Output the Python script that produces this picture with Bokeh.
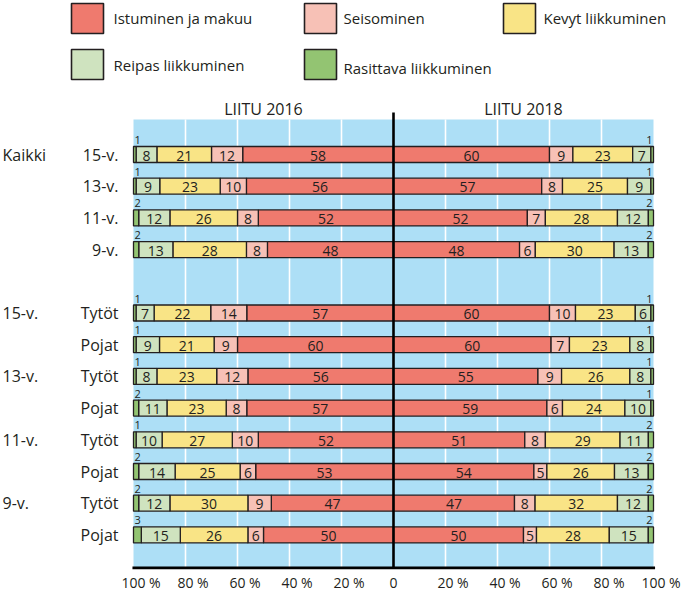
from bokeh.plotting import figure
from bokeh.models import Range1d, ColumnDataSource
from bokeh.core.properties import value
from bokeh.embed import file_html
from bokeh.resources import INLINE

# ---------------- data ----------------
group_labels = ["Kaikki", "15-v.", "13-v.", "11-v.", "9-v."]
row_labels = ["15-v.", "13-v.", "11-v.", "9-v.",
              "Tytöt", "Pojat", "Tytöt", "Pojat", "Tytöt", "Pojat", "Tytöt", "Pojat"]
categories = ["Istuminen ja makuu", "Seisominen", "Kevyt liikkuminen",
              "Reipas liikkuminen", "Rasittava liikkuminen"]
years = ["LIITU 2016", "LIITU 2018"]

ist_2016 = [58, 56, 52, 48, 57, 60, 56, 57, 52, 53, 47, 50]
sei_2016 = [12, 10, 8, 8, 14, 9, 12, 8, 10, 6, 9, 6]
kev_2016 = [21, 23, 26, 28, 22, 21, 23, 23, 27, 25, 30, 26]
rei_2016 = [8, 9, 12, 13, 7, 9, 8, 11, 10, 14, 12, 15]
ras_2016 = [1, 1, 2, 2, 1, 1, 1, 2, 1, 2, 2, 3]

ist_2018 = [60, 57, 52, 48, 60, 60, 55, 59, 51, 54, 47, 50]
sei_2018 = [9, 8, 7, 6, 10, 7, 9, 6, 8, 5, 8, 5]
kev_2018 = [23, 25, 28, 30, 23, 23, 26, 24, 29, 26, 32, 28]
rei_2018 = [7, 9, 12, 13, 6, 8, 8, 10, 11, 13, 12, 15]
ras_2018 = [1, 1, 2, 2, 1, 1, 1, 1, 2, 2, 2, 2]

tick_values = [-100, -80, -60, -40, -20, 0, 20, 40, 60, 80, 100]
tick_labels = ["100 %", "80 %", "60 %", "40 %", "20 %", "0",
               "20 %", "40 %", "60 %", "80 %", "100 %"]

colors = ["#EF7A6E", "#F7C1B6", "#F9E486", "#CFE3BF", "#93C472"]
panel_color = "#ADDFF6"
ink = "#231F20"
FONT = value("Open Sans")

# ---------------- layout helpers (figure pixels -> data) ----------------
W, H = 682, 593
CX, K = 393, 2.60      # centre line px, px per percent
CY, ROW = 154, 31.7    # first row centre px, px per row
def X(px):
    return (px - CX) / K
def Y(py):
    return (py - CY) / ROW

p = figure(width=W, height=H,
           x_range=Range1d(X(0), X(W)),
           y_range=Range1d(Y(H), Y(0)),
           output_backend="svg", toolbar_location=None,
           min_border=0, min_border_left=0, min_border_right=0,
           min_border_top=0, min_border_bottom=0)
p.xaxis.visible = False
p.yaxis.visible = False
p.grid.visible = False
p.outline_line_color = None
p.background_fill_color = "white"
p.border_fill_color = "white"

n = len(row_labels)
rows = [i if i < 4 else i + 1 for i in range(n)]
last = rows[-1]
panel_top = Y(CY - 35)
axis_y = last + 33 / ROW
bar_h = 16 / ROW

# panel and grid
p.quad(left=[-100], right=[100], top=[panel_top], bottom=[axis_y],
       fill_color=panel_color, line_color=None)
grid_x = [v for v in tick_values if v not in (0, -100, 100)]
p.segment(x0=grid_x, x1=grid_x, y0=[panel_top] * len(grid_x), y1=[axis_y] * len(grid_x),
          line_color="white", line_width=1.6)

# bars
series = {
    -1: [ist_2016, sei_2016, kev_2016, rei_2016, ras_2016],
    1: [ist_2018, sei_2018, kev_2018, rei_2018, ras_2018],
}
for side, vals in series.items():
    totals = [sum(v[i] for v in vals) for i in range(n)]
    cum = [0.0] * n
    for ci, v in enumerate(vals):
        share = [v[i] / totals[i] * 100 for i in range(n)]
        inner = cum[:]
        outer = [cum[i] + share[i] for i in range(n)]
        left = [side * a if side > 0 else side * b for a, b in zip(inner, outer)]
        right = [side * b if side > 0 else side * a for a, b in zip(inner, outer)]
        src = ColumnDataSource(dict(y=rows, left=left, right=right))
        p.hbar(y="y", left="left", right="right", height=bar_h, source=src,
               fill_color=colors[ci], line_color=ink, line_width=1.3)
        if ci < 4:
            lsrc = ColumnDataSource(dict(
                x=[side * (a + b) / 2 for a, b in zip(inner, outer)],
                y=rows, t=[str(x) for x in v]))
            p.text(x="x", y="y", text="t", source=lsrc, text_font=FONT,
                   text_font_size="14px", text_color=ink,
                   text_align="center", text_baseline="middle", y_offset=1)
        else:
            lsrc = ColumnDataSource(dict(
                x=[side * 100] * n, y=[r - 14.5 / ROW for r in rows],
                t=[str(x) for x in v]))
            p.text(x="x", y="y", text="t", source=lsrc, text_font=FONT,
                   text_font_size="11px", text_color=ink,
                   text_align="left" if side < 0 else "right",
                   x_offset=1 if side < 0 else -1,
                   text_baseline="middle")
        cum = outer

# centre line and bottom axis line
p.segment(x0=[0], x1=[0], y0=[Y(CY - 42)], y1=[axis_y], line_color="black", line_width=2.6)
p.segment(x0=[-100.4], x1=[100.6], y0=[axis_y], y1=[axis_y],
          line_color="black", line_width=2.6)

# tick labels (number centred on the tick, " %" hanging to the right)
tsrc = ColumnDataSource(dict(x=tick_values, y=[last + 48 / ROW] * len(tick_values),
                             t=tick_labels,
                             off=[0 if t == "0" else 7.5 for t in tick_labels]))
p.text(x="x", y="y", text="t", x_offset="off", source=tsrc, text_font=FONT,
       text_font_size="14px", text_color=ink, text_align="center",
       text_baseline="middle")

# year titles
p.text(x=[-50, 50], y=[Y(CY - 46)] * 2, text=years, text_font=FONT,
       text_font_size="16px", text_color=ink, text_align="center",
       text_baseline="middle")

# row labels
p.text(x=[X(118)] * n, y=rows, text=row_labels, text_font=FONT,
       text_font_size="16px", text_color=ink, text_align="right",
       text_baseline="middle")
group_rows = [0, 5, 7, 9, 11]
p.text(x=[X(2)] * len(group_labels), y=group_rows, text=group_labels,
       text_font=FONT, text_font_size="16px", text_color=ink,
       text_align="left", text_baseline="middle")

# legend
box_x = [71, 304, 503, 71, 304]
box_y = [3, 3, 3, 49, 49]
txt_x = [113, 343, 543, 113, 343]
txt_y = [17, 17.3, 17.3, 64, 67.3]
p.quad(left=[X(a) for a in box_x], right=[X(a + 32) for a in box_x],
       top=[Y(b) for b in box_y], bottom=[Y(b + 30) for b in box_y],
       fill_color=colors, line_color=ink, line_width=1.6)
p.text(x=[X(a) for a in txt_x], y=[Y(b) for b in txt_y], text=categories,
       text_font=FONT, text_font_size="15px", text_color=ink,
       text_align="left", text_baseline="middle")

open("out.html", "w").write(file_html(p, INLINE))
